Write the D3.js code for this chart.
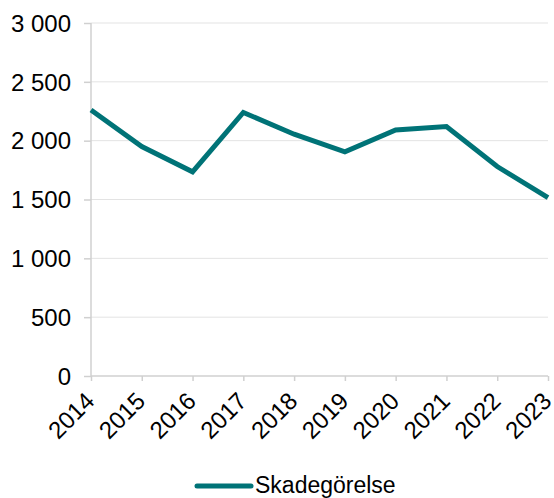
<!DOCTYPE html>
<html><head><meta charset="utf-8">
<script src="https://cdn.jsdelivr.net/npm/d3@7"></script>
<style>body{margin:0;background:#fff}svg{display:block}text{font-family:"Liberation Sans",Arial,sans-serif;fill:#000}</style>
</head><body><svg id="c" width="554" height="498"></svg>
<script>
const years = ["2014","2015","2016","2017","2018","2019","2020","2021","2022","2023"];
const values = [2260, 1950, 1735, 2240, 2055, 1905, 2090, 2120, 1780, 1515];
const yTicks = [0, 500, 1000, 1500, 2000, 2500, 3000];
const seriesName = "Skadegörelse";

(function () {
const svg = d3.select("#c");
const mLeft = 91, mRight = 548, mTop = 23, mBottom = 376;
const x = d3.scalePoint().domain(years).range([mLeft, mRight]);
const y = d3.scaleLinear().domain([0, 3000]).range([mBottom, mTop]);
const fmt = v => d3.format(",")(v).replace(/,/g, " ");
const color = "#007377";

// gridlines
svg.append("g").selectAll("line").data(yTicks.filter(d => d > 0)).join("line")
  .attr("x1", mLeft).attr("x2", mRight).attr("y1", d => y(d)).attr("y2", d => y(d))
  .attr("stroke", "#e3e3e3").attr("stroke-width", 1);

// y axis
const ya = svg.append("g").attr("transform", `translate(${mLeft},0)`)
  .call(d3.axisLeft(y).tickValues(yTicks).tickFormat(fmt).tickSize(7).tickPadding(13));
ya.select(".domain").attr("stroke", "#d0d0d0").attr("stroke-width", 1.5).attr("d", `M0,${mTop}V${mBottom}`);
ya.selectAll(".tick line").attr("stroke", "#d0d0d0").attr("stroke-width", 1.5);
ya.selectAll("text").style("font-size", "24px").attr("fill", "#000").attr("dy", "0.34em");

// x axis
const xa = svg.append("g").attr("transform", `translate(0,${mBottom})`)
  .call(d3.axisBottom(x).tickSize(5));
xa.select(".domain").attr("stroke", "#d0d0d0").attr("stroke-width", 1.5).attr("d", `M${mLeft},0H${mRight}`);
xa.selectAll(".tick line").attr("stroke", "#d0d0d0").attr("stroke-width", 1.5);
xa.selectAll("text").style("font-size", "24px").attr("fill", "#000")
  .attr("text-anchor", "end").attr("dy", null).attr("y", null)
  .attr("transform", "translate(-8,14) rotate(-45)").attr("dominant-baseline", "hanging");

// line
svg.append("path").datum(values)
  .attr("fill", "none").attr("stroke", color).attr("stroke-width", 5)
  .attr("stroke-linejoin", "miter")
  .attr("d", d3.line().x((d, i) => x(years[i])).y(d => y(d)));

// legend
const lg = svg.append("g");
lg.append("line").attr("x1", 197).attr("x2", 251).attr("y1", 486).attr("y2", 486)
  .attr("stroke", color).attr("stroke-width", 5).attr("stroke-linecap", "round");
lg.append("text").attr("x", 255).attr("y", 493).style("font-size", "23px").text(seriesName);
})();
</script></body></html>
